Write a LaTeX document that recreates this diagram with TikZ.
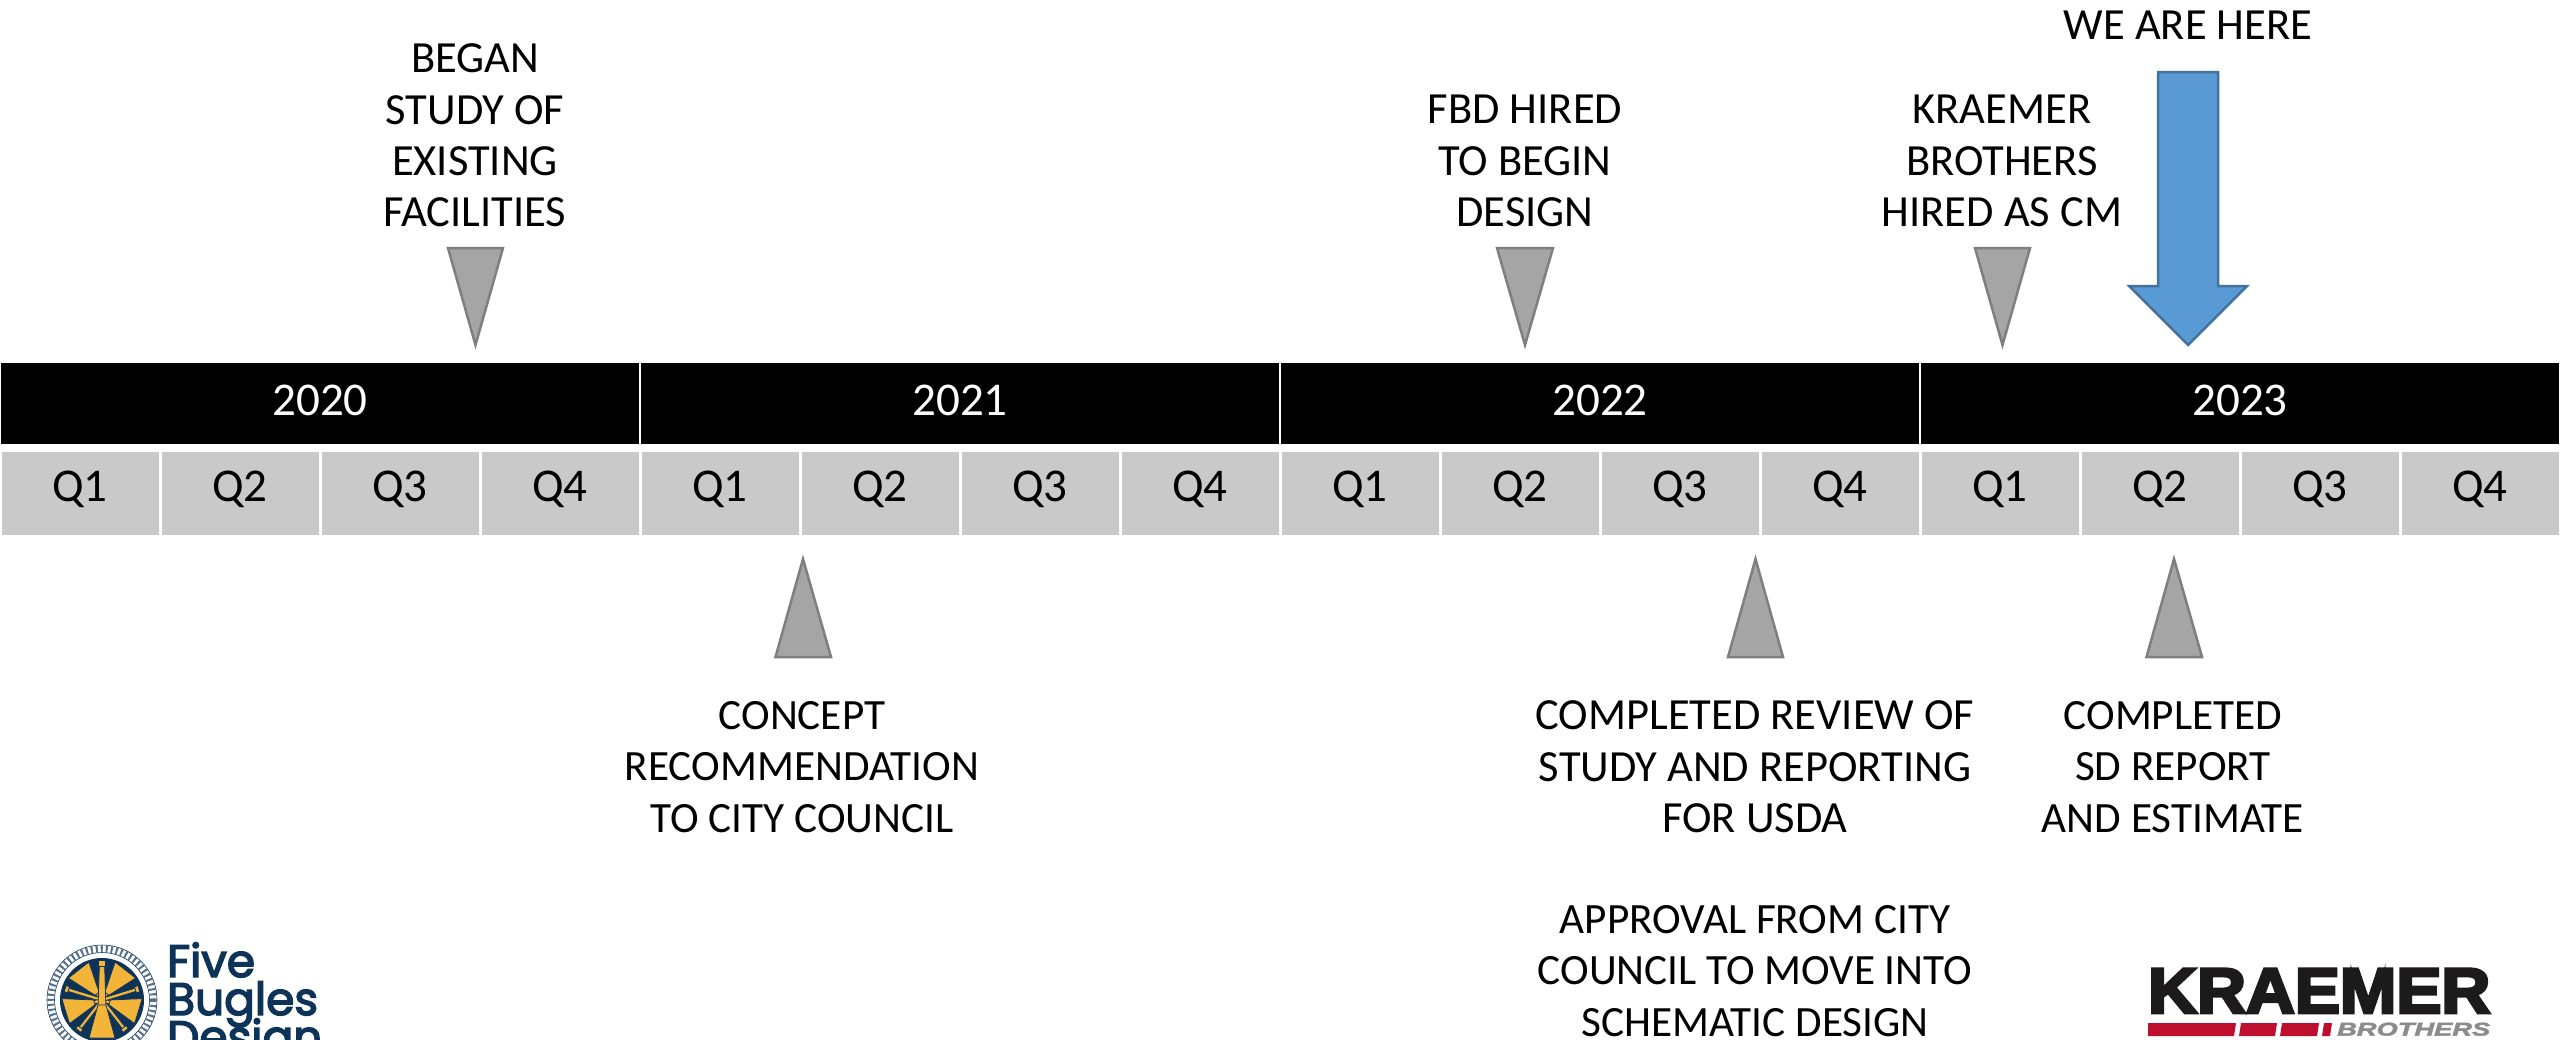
\documentclass[tikz,border=0pt]{standalone}
\usepackage{fontspec}
\usepackage{graphicx}
\setmainfont{Carlito}
\newfontfamily\logofont[FakeBold=3.2]{Poppins}
\newfontfamily\krfont[FakeBold=4.5]{Liberation Sans Bold}
\newfontfamily\krsub[FakeBold=2]{Liberation Sans Bold Italic}
\definecolor{tri}{HTML}{A5A5A5}
\definecolor{tristroke}{HTML}{7F7F7F}
\definecolor{quarter}{HTML}{C9C9C9}
\definecolor{bluefill}{HTML}{5B9BD5}
\definecolor{bluestroke}{HTML}{41719C}
\definecolor{navy}{HTML}{0E3358}
\definecolor{bugle}{HTML}{F2B53A}
\definecolor{krred}{HTML}{BE0F2E}
\definecolor{krgrey}{HTML}{8C8C8C}
\definecolor{krblack}{HTML}{1C1A1B}
\tikzset{
  yearbox/.style={fill=black,minimum width=638pt,minimum height=81pt,inner sep=0pt},
  yeartext/.style={text=white,inner sep=0pt,font=\fontsize{47}{50}\selectfont},
  quarterbox/.style={fill=quarter,minimum width=157pt,minimum height=83pt,inner sep=0pt},
  quartertext/.style={text=black,inner sep=0pt,font=\fontsize{47}{50}\selectfont},
  label/.style={align=center,inner sep=0pt,font=\fontsize{44.5}{51.4}\selectfont},
  labelnarrow/.style={align=center,inner sep=0pt,font=\fontsize{43.2}{51.4}\selectfont},
  marker/.style={fill=tri,draw=tristroke,line width=2.5pt,line join=miter},
  herearrow/.style={fill=bluefill,draw=bluestroke,line width=2.5pt,line join=miter},
  logotext/.style={anchor=base west,inner sep=0pt,text=navy,font=\fontsize{45.5}{45.5}\logofont},
  bell/.pic={
    \filldraw[bugle,draw=navy,line width=0.7pt] (-1.6,-37) rectangle (1.6,10);
    \filldraw[bugle,draw=navy,line width=0.7pt] (-3.2,-38.5) rectangle (3.2,-35);
    \filldraw[bugle,draw=navy,line width=0.7pt] (-2.5,8) -- (2.5,8) -- (13,38) -- (-13,38) -- cycle;
  },
  centrebell/.pic={
    \filldraw[bugle,draw=navy,line width=0.7pt] (-2.5,-37) -- (2.5,-37) -- (4,10) -- (-4,10) -- cycle;
    \filldraw[bugle,draw=navy,line width=0.7pt] (-3.8,-40) rectangle (3.8,-34);
    \filldraw[bugle,draw=navy,line width=0.7pt] (-4,5) -- (4,5) -- (13,38) -- (-13,38) -- cycle;
  }
}
\begin{document}
\begin{tikzpicture}[x=1pt,y=-1pt]
\useasboundingbox (0,0) rectangle (2560,1039);
\fill[white] (0,0) rectangle (2560,1039);
\clip (0,0) rectangle (2560,1039);
% years
\foreach \n/\cx/\yr in {y20/320/2020,y21/960/2021,y22/1600/2022,y23/2240/2023}{
  \node[yearbox] (\n) at (\cx,403.5) {};
  \node[yeartext] (t\n) at (\cx,400.5) {\yr};
}
% quarters
\foreach \i in {0,...,15}{
  \pgfmathsetmacro{\cx}{80+160*\i}
  \pgfmathtruncatemacro{\q}{mod(\i,4)+1}
  \node[quarterbox] (q\i) at (\cx,493.5) {};
  \node[quartertext] (qt\i) at (\cx,489.5) {Q\q};
}
% markers
\coordinate (m1a) at (448,248); \coordinate (m1b) at (503,248); \coordinate (m1c) at (475.5,345);
\draw[marker] (m1a) -- (m1b) -- (m1c) -- cycle;
\coordinate (m2a) at (1497,248); \coordinate (m2b) at (1553,248); \coordinate (m2c) at (1525,345);
\draw[marker] (m2a) -- (m2b) -- (m2c) -- cycle;
\coordinate (m3a) at (1975,248); \coordinate (m3b) at (2030,248); \coordinate (m3c) at (2002.5,345);
\draw[marker] (m3a) -- (m3b) -- (m3c) -- cycle;
\coordinate (u1a) at (775.5,657); \coordinate (u1b) at (831,657); \coordinate (u1c) at (803,559);
\draw[marker] (u1a) -- (u1b) -- (u1c) -- cycle;
\coordinate (u2a) at (1728,657); \coordinate (u2b) at (1783,657); \coordinate (u2c) at (1755.5,559);
\draw[marker] (u2a) -- (u2b) -- (u2c) -- cycle;
\coordinate (u3a) at (2146.5,657); \coordinate (u3b) at (2202,657); \coordinate (u3c) at (2174,559);
\draw[marker] (u3a) -- (u3b) -- (u3c) -- cycle;
% big arrow
\draw[herearrow] (2158,72) -- (2218,72) -- (2218,286) -- (2247,286) -- (2188,345) -- (2129,286) -- (2158,286) -- cycle;
% labels
\node[label] (began) at (475,135.5) {BEGAN\\STUDY OF\\EXISTING\\FACILITIES};
\node[label] (fbd) at (1525,161) {FBD HIRED\\TO BEGIN\\DESIGN};
\node[label] (kraemer) at (2002,161) {KRAEMER\\BROTHERS\\HIRED AS CM};
\node[label] (here) at (2188,25) {WE ARE HERE};
\node[labelnarrow] (concept) at (802,767) {CONCEPT\\RECOMMENDATION\\TO CITY COUNCIL};
\node[label] (review) at (1755,767) {COMPLETED REVIEW OF\\STUDY AND REPORTING\\FOR USDA};
\node[labelnarrow] (approval) at (1755,971) {APPROVAL FROM CITY\\COUNCIL TO MOVE INTO\\SCHEMATIC DESIGN};
\node[labelnarrow] (sd) at (2173,767) {COMPLETED\\SD REPORT\\AND ESTIMATE};
% Five Bugles logo
\coordinate (lc) at (102,1000);
\draw[navy,line width=0.6pt] (lc) circle (55);
\draw[navy,line width=0.6pt] (lc) circle (47.5);
\draw[navy!70,line width=7pt,dash pattern=on 2pt off 3pt] (lc) circle (51.2);
\fill[navy] (lc) circle (42);
\foreach \a in {142,-142,73,-73}
  \pic[rotate=\a] at (lc) {bell};
\pic at (lc) {centrebell};
\node[logotext] (five) at (167,977) {Five};
\node[logotext] (bugles) at (167,1015) {Bugles};
\node[logotext] (design) at (167,1053) {Design};
% Kraemer logo
\node[anchor=south west,inner sep=0pt,text=krblack] (krname) at (2148,1013)
  {\resizebox{342pt}{44pt}{\krfont KRAEMER}};
\fill[krred] (2148,1023) -- (2236,1023) -- (2234,1036) -- (2148,1036) -- cycle;
\fill[krred] (2241,1023) -- (2277,1023) -- (2275,1036) -- (2239,1036) -- cycle;
\fill[krred] (2282,1023) -- (2319,1023) -- (2317,1036) -- (2280,1036) -- cycle;
\fill[krred] (2324,1023) -- (2332,1023) -- (2330,1036) -- (2322,1036) -- cycle;
\node[anchor=south west,inner sep=0pt,text=krgrey] (krbro) at (2337,1036)
  {\resizebox{153pt}{13pt}{\krsub BROTHERS}};
\end{tikzpicture}
\end{document}
